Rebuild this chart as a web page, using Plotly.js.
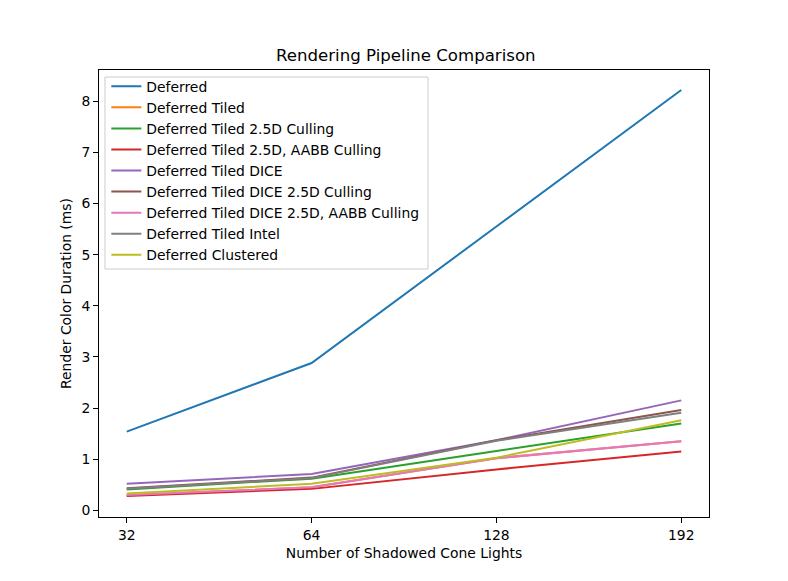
<!DOCTYPE html>
<html>
<head>
<meta charset="utf-8">
<script src="https://cdn.plot.ly/plotly-3.0.1.min.js"></script>
<style>html,body{margin:0;padding:0;background:#fff;}#chart{width:788px;height:581px;}</style>
</head>
<body>
<div id="chart"></div>
<script>
const categories = ['32', '64', '128', '192'];
const seriesNames = [
  'Deferred',
  'Deferred Tiled',
  'Deferred Tiled 2.5D Culling',
  'Deferred Tiled 2.5D, AABB Culling',
  'Deferred Tiled DICE',
  'Deferred Tiled DICE 2.5D Culling',
  'Deferred Tiled DICE 2.5D, AABB Culling',
  'Deferred Tiled Intel',
  'Deferred Clustered'
];
const deferred = [1.54, 2.88, 5.55, 8.22];
const deferredTiled = [0.30, 0.45, 1.02, 1.35];
const tiled25D = [0.41, 0.62, 1.16, 1.70];
const tiled25DAABB = [0.28, 0.42, 0.80, 1.15];
const tiledDICE = [0.52, 0.71, 1.37, 2.15];
const dice25D = [0.43, 0.64, 1.37, 1.96];
const dice25DAABB = [0.30, 0.45, 1.02, 1.35];
const tiledIntel = [0.42, 0.63, 1.36, 1.91];
const clustered = [0.33, 0.52, 1.03, 1.76];

const allValues = [deferred, deferredTiled, tiled25D, tiled25DAABB, tiledDICE, dice25D, dice25DAABB, tiledIntel, clustered];
const colors = ['#1f77b4', '#ff7f0e', '#2ca02c', '#d62728', '#9467bd', '#8c564b', '#e377c2', '#7f7f7f', '#bcbd22'];

const traces = allValues.map((vals, i) => ({
  type: 'scatter',
  mode: 'lines',
  x: categories,
  y: vals,
  name: seriesNames[i],
  line: {color: colors[i], width: 2}
}));

const font = {family: 'DejaVu Sans, sans-serif', size: 13.9, color: '#000'};
const layout = {
  width: 788,
  height: 581,
  margin: {l: 99, r: 79, t: 70, b: 64},
  paper_bgcolor: '#fff',
  plot_bgcolor: '#fff',
  font: font,
  showlegend: true,
  title: {text: 'Rendering Pipeline Comparison', font: {family: 'DejaVu Sans, sans-serif', size: 16.6, color: '#000'}, x: 0.515, xanchor: 'center', y: 0.905, yanchor: 'middle'},
  xaxis: {
    type: 'category',
    range: [-0.15, 3.15],
    showgrid: false,
    zeroline: false,
    showline: true, mirror: true, linecolor: '#000', linewidth: 1,
    ticks: 'outside', ticklen: 5, tickcolor: '#000',
    tickfont: font,
    title: {text: 'Number of Shadowed Cone Lights', font: font, standoff: 6}
  },
  yaxis: {
    range: [-0.13, 8.61],
    tickvals: [0, 1, 2, 3, 4, 5, 6, 7, 8],
    showgrid: false,
    zeroline: false,
    showline: true, mirror: true, linecolor: '#000', linewidth: 1,
    ticks: 'outside', ticklen: 5, tickcolor: '#000',
    tickfont: font,
    title: {text: 'Render Color Duration (ms)', font: font, standoff: 6}
  },
  shapes: [{
    type: 'rect', xref: 'paper', yref: 'paper', layer: 'above',
    x0: 0.0098, x1: 0.5393, y0: 0.5548, y1: 0.9843,
    fillcolor: 'rgba(255,255,255,0.8)',
    line: {color: '#cccccc', width: 1}
  }],
  legend: {
    x: 0.012, y: 0.9984, xanchor: 'left', yanchor: 'top',
    bgcolor: 'rgba(0,0,0,0)',
    borderwidth: 0,
    font: font,
    tracegroupgap: 0,
    itemwidth: 30
  }
};

Plotly.newPlot('chart', traces, layout, {displayModeBar: false, staticPlot: true});
</script>
</body>
</html>
